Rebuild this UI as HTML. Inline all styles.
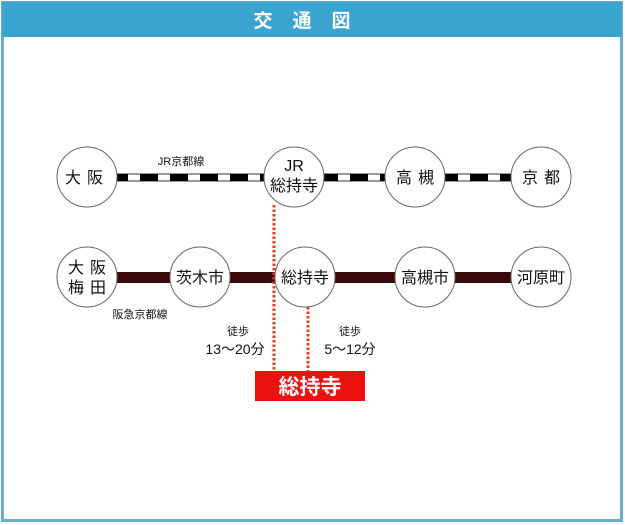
<!DOCTYPE html>
<html><head><meta charset="utf-8"><style>
body{margin:0;width:625px;height:525px;background:#fff;overflow:hidden}
svg{display:block}
text{font-family:"Liberation Sans","Noto Sans CJK JP",sans-serif;fill:#111}
</style></head><body>
<svg width="625" height="525" viewBox="0 0 625 525">
<rect x="2.5" y="2.5" width="619" height="518" fill="#fff" stroke="#6aaccc" stroke-width="3"/>
<rect x="2" y="2" width="620" height="35" fill="#3aa3cf"/>
<text x="312" y="27" text-anchor="middle" font-size="19" font-weight="bold" style="fill:#fff" letter-spacing="20">交通図</text>
<!-- JR line -->
<rect x="110" y="174" width="440" height="7" fill="#fff" stroke="#333" stroke-width="1"/>
<line x1="110" y1="177.5" x2="550" y2="177.5" stroke="#000" stroke-width="7" stroke-dasharray="18 12"/>
<!-- Hankyu line -->
<rect x="110" y="272" width="440" height="11" fill="#3a0a0a"/>
<!-- dotted -->
<line x1="274" y1="205" x2="274" y2="372" stroke="#e04020" stroke-width="3" stroke-dasharray="2.5 2"/>
<line x1="308" y1="307" x2="308" y2="372" stroke="#e04020" stroke-width="3" stroke-dasharray="2.5 2"/>
<g fill="#fff" stroke="#666" stroke-width="1">
<circle cx="87" cy="177" r="30"/><circle cx="294" cy="177" r="30"/><circle cx="415" cy="177" r="30"/><circle cx="541" cy="177" r="30"/>
<circle cx="87" cy="277" r="30"/><circle cx="200" cy="277" r="30"/><circle cx="305" cy="277" r="30"/><circle cx="425" cy="277" r="30"/><circle cx="541" cy="277" r="30"/>
</g>
<g font-size="16" text-anchor="middle">
<text x="87" y="183" letter-spacing="6">大阪</text>
<text x="294" y="171">JR</text><text x="294" y="191">総持寺</text>
<text x="418" y="183" letter-spacing="6">高槻</text>
<text x="544" y="183" letter-spacing="6">京都</text>
<text x="90" y="273" letter-spacing="6">大阪</text><text x="90" y="293" letter-spacing="6">梅田</text>
<text x="200" y="283">茨木市</text><text x="305" y="283">総持寺</text>
<text x="425" y="283">高槻市</text><text x="541" y="283">河原町</text>
</g>
<text x="181" y="165" font-size="11" text-anchor="middle">JR京都線</text>
<text x="140" y="318" font-size="11" text-anchor="middle">阪急京都線</text>
<text x="238" y="335" font-size="11" text-anchor="middle">徒歩</text>
<text x="235" y="354" font-size="14" text-anchor="middle">13～20分</text>
<text x="350" y="335" font-size="11" text-anchor="middle">徒歩</text>
<text x="350" y="354" font-size="14" text-anchor="middle">5～12分</text>
<rect x="255" y="371" width="110" height="30" fill="#ee1111"/>
<text x="310" y="394" font-size="21" font-weight="bold" text-anchor="middle" style="fill:#fff">総持寺</text>
</svg>
</body></html>
